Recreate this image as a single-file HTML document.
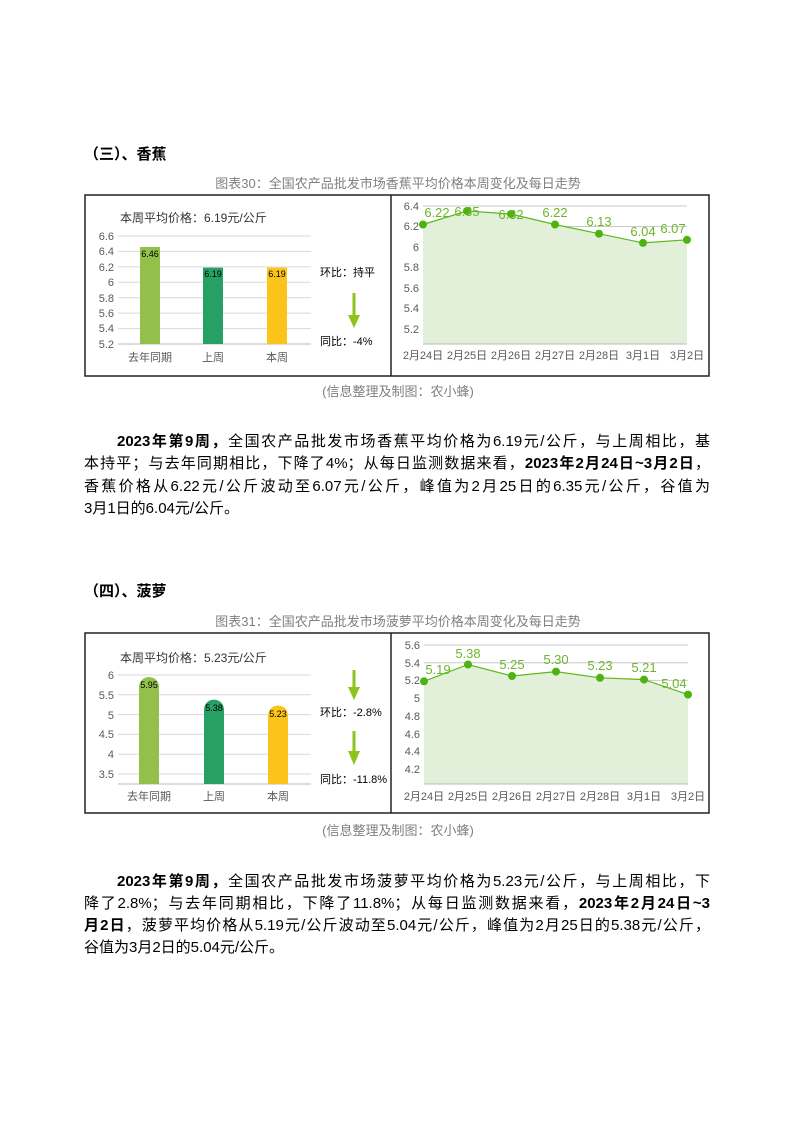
<!DOCTYPE html>
<html><head><meta charset="utf-8"><style>
body{margin:0;background:#fff}
#p{position:relative;width:794px;height:1122px;overflow:hidden;font-family:"Liberation Sans","Noto Sans CJK SC",sans-serif}
svg{position:absolute;left:0;top:0}
.l{position:absolute;left:84px;width:626px;font-size:15px;color:#000;white-space:nowrap;text-align:justify;text-align-last:justify;line-height:22px}
.e{text-align-last:left}
b{font-weight:bold}
</style></head><body><div id="p">
<svg width="794" height="1122" font-family="Liberation Sans, Noto Sans CJK SC, sans-serif">
<text x="84" y="159" font-size="15" font-weight="bold">（三）、香蕉</text>
<text x="398" y="188" font-size="13" fill="#7f7f7f" text-anchor="middle">图表30：全国农产品批发市场香蕉平均价格本周变化及每日走势</text>
<rect x="85" y="195" width="624" height="181" fill="none" stroke="#222" stroke-width="1.5"/>
<line x1="391" y1="195" x2="391" y2="376" stroke="#222" stroke-width="1.5"/>
<g stroke="#d9d9d9"><line x1="118" x2="311" y1="236" y2="236"/><line x1="118" x2="311" y1="251.4" y2="251.4"/><line x1="118" x2="311" y1="266.9" y2="266.9"/><line x1="118" x2="311" y1="282.3" y2="282.3"/><line x1="118" x2="311" y1="297.7" y2="297.7"/><line x1="118" x2="311" y1="313.1" y2="313.1"/><line x1="118" x2="311" y1="328.6" y2="328.6"/><line x1="118" x2="311" y1="344" y2="344" stroke="#bbb"/></g>
<g font-size="11" fill="#595959" text-anchor="end"><text x="114" y="240">6.6</text><text x="114" y="255">6.4</text><text x="114" y="271">6.2</text><text x="114" y="286">6</text><text x="114" y="302">5.8</text><text x="114" y="317">5.6</text><text x="114" y="332">5.4</text><text x="114" y="348">5.2</text></g>
<rect x="140" y="247" width="20" height="97" fill="#92c04a"/><rect x="203" y="267.6" width="20" height="76.4" fill="#26a065"/><rect x="267" y="267.6" width="20" height="76.4" fill="#fcc41a"/>
<g font-size="9" text-anchor="middle"><text x="150" y="257">6.46</text><text x="213" y="277">6.19</text><text x="277" y="277">6.19</text></g>
<g font-size="11" fill="#595959" text-anchor="middle"><text x="150" y="361">去年同期</text><text x="213" y="361">上周</text><text x="277" y="361">本周</text></g>
<text x="120" y="222" font-size="12" fill="#333">本周平均价格：6.19元/公斤</text>
<text x="320" y="276" font-size="11">环比：持平</text><text x="320" y="345" font-size="11">同比：-4%</text>
<line x1="354" y1="293" x2="354" y2="318" stroke="#8dc21f" stroke-width="3"/><polygon points="348,315 360,315 354,328" fill="#8dc21f"/>
<g stroke="#c8c8c8"><line x1="423" x2="687" y1="206" y2="206"/><line x1="423" x2="687" y1="226.5" y2="226.5"/><line x1="423" x2="687" y1="247" y2="247"/><line x1="423" x2="687" y1="267.5" y2="267.5"/><line x1="423" x2="687" y1="288" y2="288"/><line x1="423" x2="687" y1="308.5" y2="308.5"/><line x1="423" x2="687" y1="329" y2="329"/></g>
<polygon points="423,344 423,224.5 467,211 511,214 555,224.5 599,233.7 643,242.9 687,239.8 687,344" fill="#e2f0d9"/>
<line x1="423" x2="687" y1="344" y2="344" stroke="#bbb"/>
<polyline points="423,224.5 467,211 511,214 555,224.5 599,233.7 643,242.9 687,239.8" fill="none" stroke="#5cb81c" stroke-width="1.2"/>
<g fill="#4eb30e"><circle cx="423" cy="224.5" r="4"/><circle cx="467" cy="211" r="4"/><circle cx="511" cy="214" r="4"/><circle cx="555" cy="224.5" r="4"/><circle cx="599" cy="233.7" r="4"/><circle cx="643" cy="242.9" r="4"/><circle cx="687" cy="239.8" r="4"/></g>
<g font-size="13" fill="#6cb52a" text-anchor="middle"><text x="437" y="217">6.22</text><text x="467" y="216">6.35</text><text x="511" y="219">6.32</text><text x="555" y="217">6.22</text><text x="599" y="226">6.13</text><text x="643" y="236">6.04</text><text x="673" y="233">6.07</text></g>
<g font-size="11" fill="#595959" text-anchor="end"><text x="419" y="210">6.4</text><text x="419" y="230">6.2</text><text x="419" y="251">6</text><text x="419" y="271">5.8</text><text x="419" y="292">5.6</text><text x="419" y="312">5.4</text><text x="419" y="333">5.2</text></g>
<g font-size="11" fill="#595959" text-anchor="middle"><text x="423" y="359">2月24日</text><text x="467" y="359">2月25日</text><text x="511" y="359">2月26日</text><text x="555" y="359">2月27日</text><text x="599" y="359">2月28日</text><text x="643" y="359">3月1日</text><text x="687" y="359">3月2日</text></g>
<text x="398" y="396" font-size="13" fill="#7f7f7f" text-anchor="middle">(信息整理及制图：农小蜂)</text>

<text x="84" y="596" font-size="15" font-weight="bold">（四）、菠萝</text>
<text x="398" y="626" font-size="13" fill="#7f7f7f" text-anchor="middle">图表31：全国农产品批发市场菠萝平均价格本周变化及每日走势</text>
<rect x="85" y="633" width="624" height="180" fill="none" stroke="#222" stroke-width="1.5"/>
<line x1="391" y1="633" x2="391" y2="813" stroke="#222" stroke-width="1.5"/>
<g stroke="#d9d9d9"><line x1="118" x2="311" y1="675" y2="675"/><line x1="118" x2="311" y1="694.8" y2="694.8"/><line x1="118" x2="311" y1="714.6" y2="714.6"/><line x1="118" x2="311" y1="734.4" y2="734.4"/><line x1="118" x2="311" y1="754.2" y2="754.2"/><line x1="118" x2="311" y1="774" y2="774"/><line x1="118" x2="311" y1="784" y2="784" stroke="#bbb"/></g>
<g font-size="11" fill="#595959" text-anchor="end"><text x="114" y="679">6</text><text x="114" y="699">5.5</text><text x="114" y="719">5</text><text x="114" y="738">4.5</text><text x="114" y="758">4</text><text x="114" y="778">3.5</text></g>
<path d="M139,784 V687 a10,10 0 0 1 20,0 V784Z" fill="#92c04a"/><path d="M204,784 V709.6 a10,10 0 0 1 20,0 V784Z" fill="#26a065"/><path d="M268,784 V715.5 a10,10 0 0 1 20,0 V784Z" fill="#fcc41a"/>
<g font-size="9" text-anchor="middle"><text x="149" y="688">5.95</text><text x="214" y="711">5.38</text><text x="278" y="717">5.23</text></g>
<g font-size="11" fill="#595959" text-anchor="middle"><text x="149" y="800">去年同期</text><text x="214" y="800">上周</text><text x="278" y="800">本周</text></g>
<text x="120" y="662" font-size="12" fill="#333">本周平均价格：5.23元/公斤</text>
<text x="320" y="716" font-size="11">环比：-2.8%</text><text x="320" y="783" font-size="11">同比：-11.8%</text>
<line x1="354" y1="670" x2="354" y2="690" stroke="#8dc21f" stroke-width="3"/><polygon points="348,687 360,687 354,700" fill="#8dc21f"/>
<line x1="354" y1="731" x2="354" y2="754" stroke="#8dc21f" stroke-width="3"/><polygon points="348,751 360,751 354,765" fill="#8dc21f"/>
<g stroke="#c8c8c8"><line x1="424" x2="688" y1="645" y2="645"/><line x1="424" x2="688" y1="662.7" y2="662.7"/><line x1="424" x2="688" y1="680.4" y2="680.4"/><line x1="424" x2="688" y1="698.2" y2="698.2"/><line x1="424" x2="688" y1="715.9" y2="715.9"/><line x1="424" x2="688" y1="733.6" y2="733.6"/><line x1="424" x2="688" y1="751.3" y2="751.3"/><line x1="424" x2="688" y1="769" y2="769"/></g>
<polygon points="424,784 424,681.3 468,664.5 512,676 556,671.6 600,677.8 644,679.6 688,694.6 688,784" fill="#e2f0d9"/>
<line x1="424" x2="688" y1="784" y2="784" stroke="#bbb"/>
<polyline points="424,681.3 468,664.5 512,676 556,671.6 600,677.8 644,679.6 688,694.6" fill="none" stroke="#5cb81c" stroke-width="1.2"/>
<g fill="#4eb30e"><circle cx="424" cy="681.3" r="4"/><circle cx="468" cy="664.5" r="4"/><circle cx="512" cy="676" r="4"/><circle cx="556" cy="671.6" r="4"/><circle cx="600" cy="677.8" r="4"/><circle cx="644" cy="679.6" r="4"/><circle cx="688" cy="694.6" r="4"/></g>
<g font-size="13" fill="#6cb52a" text-anchor="middle"><text x="438" y="674">5.19</text><text x="468" y="658">5.38</text><text x="512" y="669">5.25</text><text x="556" y="664">5.30</text><text x="600" y="670">5.23</text><text x="644" y="672">5.21</text><text x="674" y="688">5.04</text></g>
<g font-size="11" fill="#595959" text-anchor="end"><text x="420" y="649">5.6</text><text x="420" y="667">5.4</text><text x="420" y="684">5.2</text><text x="420" y="702">5</text><text x="420" y="720">4.8</text><text x="420" y="738">4.6</text><text x="420" y="755">4.4</text><text x="420" y="773">4.2</text></g>
<g font-size="11" fill="#595959" text-anchor="middle"><text x="424" y="800">2月24日</text><text x="468" y="800">2月25日</text><text x="512" y="800">2月26日</text><text x="556" y="800">2月27日</text><text x="600" y="800">2月28日</text><text x="644" y="800">3月1日</text><text x="688" y="800">3月2日</text></g>
<text x="398" y="835" font-size="13" fill="#7f7f7f" text-anchor="middle">(信息整理及制图：农小蜂)</text>
</svg>
<div class="l" style="top:431px;left:117px;width:593px"><b>2023年第9周，</b>全国农产品批发市场香蕉平均价格为6.19元/公斤，与上周相比，基</div>
<div class="l" style="top:453px">本持平；与去年同期相比，下降了4%；从每日监测数据来看，<b>2023年2月24日~3月2日</b>，</div>
<div class="l" style="top:476px">香蕉价格从6.22元/公斤波动至6.07元/公斤，峰值为2月25日的6.35元/公斤，谷值为</div>
<div class="l e" style="top:498px">3月1日的6.04元/公斤。</div>
<div class="l" style="top:871px;left:117px;width:593px"><b>2023年第9周，</b>全国农产品批发市场菠萝平均价格为5.23元/公斤，与上周相比，下</div>
<div class="l" style="top:893px">降了2.8%；与去年同期相比，下降了11.8%；从每日监测数据来看，<b>2023年2月24日~3</b></div>
<div class="l" style="top:915px"><b>月2日</b>，菠萝平均价格从5.19元/公斤波动至5.04元/公斤，峰值为2月25日的5.38元/公斤，</div>
<div class="l e" style="top:937px">谷值为3月2日的5.04元/公斤。</div>
</div></body></html>
